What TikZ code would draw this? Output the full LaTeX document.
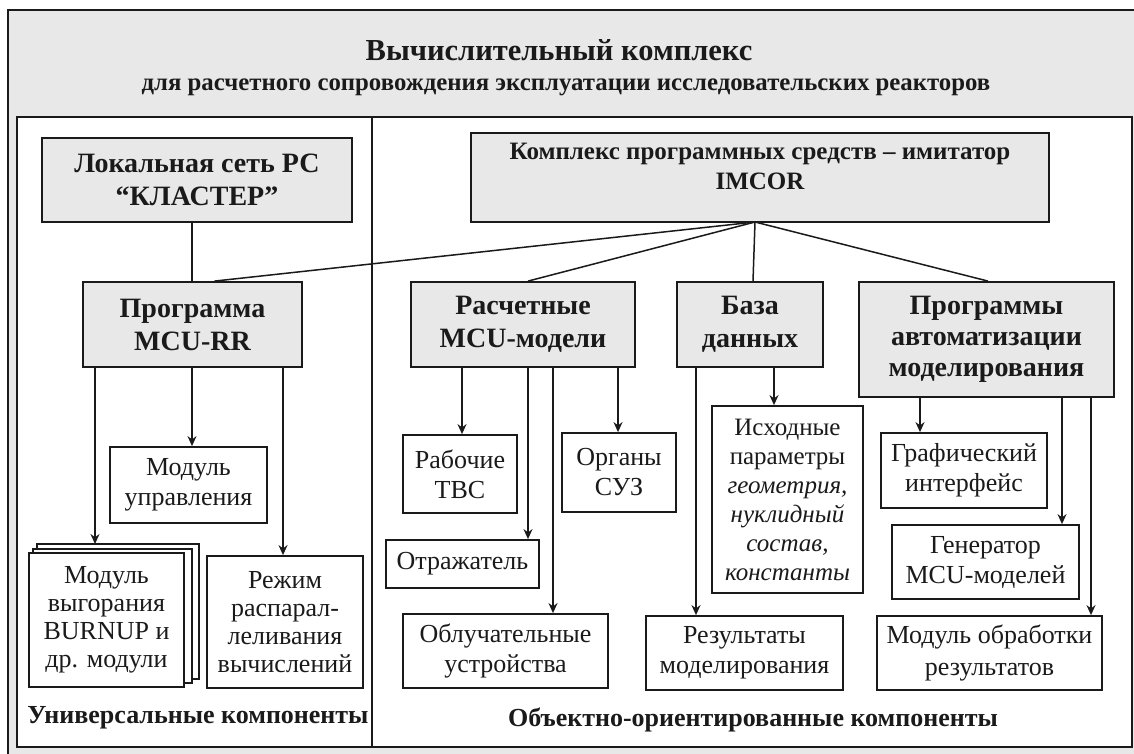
\documentclass[tikz,border=0pt]{standalone}
\usepackage{fontspec}
\setmainfont{Liberation Serif}
\usetikzlibrary{arrows.meta}
\definecolor{panel}{HTML}{E8E8E8}
\definecolor{ink}{HTML}{1A1A1A}
\tikzset{
  base/.style={draw=ink, line width=1.8pt, inner sep=0pt, align=center, text=ink},
  head/.style={base, fill=panel, font=\fontsize{28}{33}\selectfont\bfseries},
  leaf/.style={base, fill=white, font=\fontsize{26}{30}\selectfont},
  tight/.style={font=\fontsize{26}{28}\selectfont},
  conn/.style={draw=ink, line width=1.5pt},
  arr/.style={conn, -{Stealth[length=10pt,width=9pt]}},
  caption/.style={text=ink, inner sep=0pt, font=\fontsize{26}{30}\selectfont\bfseries},
  sz/.style 2 args={minimum width=#1pt, minimum height=#2pt},
}
\begin{document}
\begin{tikzpicture}[x=1pt,y=-1pt]
\useasboundingbox (0,0) rectangle (1134,754);
\clip (0,0) rectangle (1134,754);
% frames
\draw[fill=panel, draw=ink, line width=2pt] (8,10) rectangle (1150,770);
\draw[fill=white, draw=ink, line width=2pt] (17,117) rectangle (1132,747);
\draw[draw=ink, line width=2pt] (372,117) -- (372,747);
% titles
\node[text=ink, inner sep=0pt, font=\fontsize{30.5}{34}\selectfont\bfseries] (title) at (559,50) {Вычислительный комплекс};
\node[text=ink, inner sep=0pt, font=\fontsize{24.8}{28}\selectfont\bfseries] (subtitle) at (566,87) {для расчетного сопровождения эксплуатации исследовательских реакторов};
% left column
\node[head, sz={310}{84}] (lok) at (197,180) {Локальная сеть РС\\“КЛАСТЕР”};
\node[head, sz={219}{85}] (prog) at (192.5,324.5) {Программа\\MCU-RR};
\node[leaf, sz={157}{76}] (mu) at (188.5,485) {Модуль\\управления};
\draw[fill=white, draw=ink, line width=1.8pt] (37,544) rectangle (199,679);
\draw[fill=white, draw=ink, line width=1.8pt] (33,549) rectangle (192,683);
\node[leaf, tight, sz={155}{134}] (burn) at (106.5,620) {Модуль\\выгорания\\BURNUP и\\др. модули};
\coordinate (burntop) at (95,544);
\node[leaf, tight, sz={156}{132}] (rezh) at (285,622) {Режим\\распарал-\\леливания\\вычислений};
\node[caption] (univ) at (198,718) {Универсальные компоненты};
% right column
\node[head, sz={578}{89},
  label={[anchor=north, yshift=-11pt, inner sep=0pt, align=center, text=ink,
          font=\fontsize{25}{30}\selectfont\bfseries]north:{Комплекс программных средств – имитатор\\IMCOR}}] (imcor) at (760,177.5) {};
\node[head, sz={224}{85}] (rasch) at (523,324.5) {Расчетные\\MCU-модели};
\node[head, sz={146}{85}] (baza) at (750,324.5) {База\\данных};
\node[head, sz={255}{115}, font=\fontsize{28}{31}\selectfont\bfseries] (pauto) at (986.5,339.5) {Программы\\автоматизации\\моделирования};
\node[leaf, sz={114}{78}] (rab) at (460,474) {Рабочие\\ТВС};
\node[leaf, sz={114}{79}] (org) at (619,472.5) {Органы\\СУЗ};
\node[leaf, sz={153}{48}] (otr) at (462.5,564) {Отражатель};
\node[leaf, sz={205}{74}] (obl) at (505.5,651) {Облучательные\\устройства};
\node[leaf, font=\fontsize{25}{29}\selectfont, sz={151}{187}] (isx) at (787.5,499.5) {Исходные\\параметры\\\textit{геометрия,}\\\textit{нуклидный}\\\textit{состав,}\\\textit{константы}};
\node[leaf, sz={197}{74}] (rez) at (744.5,653) {Результаты\\моделирования};
\node[leaf, sz={166}{75}] (graf) at (964,470.5) {Графический\\интерфейс};
\node[leaf, sz={187}{74}] (gen) at (985.5,562) {Генератор\\MCU-моделей};
\node[leaf, font=\fontsize{26}{32}\selectfont, sz={225}{74}] (mobr) at (989.5,653) {Модуль обработки\\результатов};
\node[caption] (objc) at (753,720) {Объектно-ориентированные компоненты};
% column x positions
\coordinate (xa) at (95,0);
\coordinate (xb) at (192,0);
\coordinate (xc) at (283,0);
\coordinate (xd) at (462,0);
\coordinate (xe) at (528,0);
\coordinate (xf) at (553,0);
\coordinate (xg) at (618,0);
\coordinate (xh) at (696,0);
\coordinate (xi) at (774,0);
\coordinate (xj) at (920,0);
\coordinate (xk) at (1062,0);
\coordinate (xl) at (1091,0);
\coordinate (hub) at (755,222);
% connectors
\draw[conn] (lok.south -| xb) -- (prog.north -| xb);
\draw[conn] (hub) -- ([xshift=22pt]prog.north);
\draw[conn] (hub) -- ([xshift=5pt]rasch.north);
\draw[conn] (hub) -- ([xshift=3pt]baza.north);
\draw[conn] (hub) -- ([xshift=1.5pt]pauto.north);
\draw[arr] (prog.south -| xa) -- (burntop);
\draw[arr] (prog.south -| xb) -- (mu.north -| xb);
\draw[arr] (prog.south -| xc) -- (rezh.north -| xc);
\draw[arr] (rasch.south -| xd) -- (rab.north -| xd);
\draw[arr] (rasch.south -| xe) -- (otr.north -| xe);
\draw[arr] (rasch.south -| xf) -- (obl.north -| xf);
\draw[arr] (rasch.south -| xg) -- (org.north -| xg);
\draw[arr] (baza.south -| xh) -- (rez.north -| xh);
\draw[arr] (baza.south -| xi) -- (isx.north -| xi);
\draw[arr] (pauto.south -| xj) -- (graf.north -| xj);
\draw[arr] (pauto.south -| xk) -- (gen.north -| xk);
\draw[arr] (pauto.south -| xl) -- (mobr.north -| xl);
\end{tikzpicture}
\end{document}
